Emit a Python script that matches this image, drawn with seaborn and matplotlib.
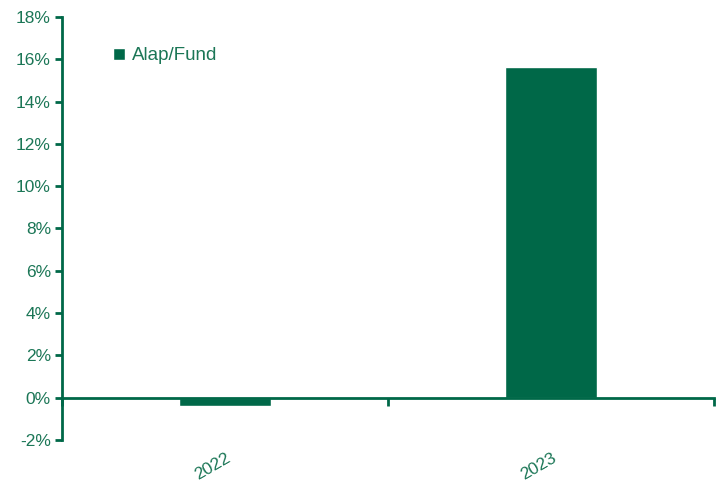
import numpy as np
import seaborn as sns
import matplotlib.pyplot as plt
import pandas as pd
from matplotlib.ticker import FixedLocator, PercentFormatter

years = ['2022', '2023']
fund_returns = [-0.4, 15.65]
series_name = 'Alap/Fund'

BAR = '#006848'
TXT = '#1b7656'

df = pd.DataFrame({'year': years, 'ret': fund_returns})

sns.set_style('white')
plt.rcParams['font.family'] = ['Liberation Sans', 'DejaVu Sans']
plt.rcParams['axes.unicode_minus'] = False

fig = plt.figure(figsize=(7.22, 4.86), dpi=100)
ax = fig.add_axes([0.0859, 0.0947, 0.9031, 0.8703])

sns.barplot(data=df, x='year', y='ret', color=BAR, width=0.28,
            saturation=1, ax=ax, label=series_name)

ax.set_xlim(-0.5, len(years) - 0.5)
ax.set_ylim(-2, 18)
ax.set_yticks(np.arange(-2, 19, 2))
ax.yaxis.set_major_formatter(PercentFormatter(decimals=0))
ax.set_xlabel('')
ax.set_ylabel('')

for s in ['top', 'right']:
    ax.spines[s].set_visible(False)
ax.spines['bottom'].set_position(('data', 0))
for s in ['left', 'bottom']:
    ax.spines[s].set_color(BAR)
    ax.spines[s].set_linewidth(2)

ax.xaxis.set_minor_locator(FixedLocator(np.arange(-0.5, len(years), 1)))
ax.tick_params(axis='x', which='both', bottom=True)
ax.tick_params(axis='y', which='major', left=True)
ax.tick_params(axis='x', which='major', length=0, pad=38, labelsize=12.5,
               labelcolor=TXT)
ax.tick_params(axis='x', which='minor', length=6, width=2, color=BAR,
               direction='out')
ax.tick_params(axis='y', length=5, width=2, color=BAR, direction='out',
               labelsize=12.5, labelcolor=TXT, pad=3)
plt.setp(ax.get_xticklabels(), rotation=30, ha='right',
         rotation_mode='anchor')

leg = ax.legend(loc='upper left', bbox_to_anchor=(0.053, 0.968), frameon=False,
                handlelength=0.6, handleheight=0.6, handletextpad=0.4,
                fontsize=13.5)
for t in leg.get_texts():
    t.set_color(TXT)

fig.savefig('out.png', dpi=100)
